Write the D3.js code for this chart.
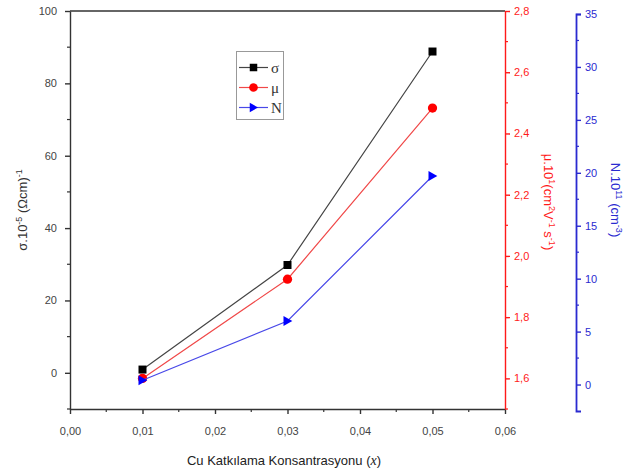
<!DOCTYPE html>
<html><head><meta charset="utf-8">
<script src="https://cdn.jsdelivr.net/npm/d3@7"></script>
<style>body{margin:0;background:#fff}svg{display:block}</style>
</head><body>
<svg id="c" width="630" height="474"></svg>
<script>
const xValues = [0.01, 0.03, 0.05];
const sigmaValues = [0.9, 29.8, 88.8];
const muValues = [1.60, 1.924, 2.483];
const nValues = [0.4, 6.0, 19.7];
const xTicks = [0, 0.01, 0.02, 0.03, 0.04, 0.05, 0.06];
const sigmaTicks = [0, 20, 40, 60, 80, 100];
const muTicks = [1.6, 1.8, 2.0, 2.2, 2.4, 2.6, 2.8];
const nTicks = [0, 5, 10, 15, 20, 25, 30, 35];

const svg = d3.select("#c");
const L = 70, R = 505, T = 11, B = 409;
const x = d3.scaleLinear([0, 0.06], [L, R]);
const yS = d3.scaleLinear([-10, 100], [B, T]);
const yM = d3.scaleLinear([1.5, 2.8], [B, T]);
const yN = d3.scaleLinear([-2.5, 35], [411, 14]);
const comma = d => d3.format(".2f")(d).replace(".", ",");
const comma1 = d => d3.format(".1f")(d).replace(".", ",");
const sans = "Liberation Sans, Arial, sans-serif";
const serif = "Liberation Serif, Times New Roman, serif";
const black = "#333", red = "#ff1a1a", blue = "#2a2ad0";

function styleAxis(g, color, fs) {
  g.selectAll("path,line").attr("stroke", color).attr("stroke-width", 1.4);
  g.selectAll("text").attr("fill", color).attr("font-family", sans).attr("font-size", fs);
}

// top frame
svg.append("line").attr("x1", L).attr("x2", R).attr("y1", T).attr("y2", T)
  .attr("stroke", black).attr("stroke-width", 1.4);

function minor(g, vals, scale, orient, color) {
  vals.forEach(v => {
    const p = scale(v);
    const l = g.append("line").attr("stroke", color).attr("stroke-width", 1.2);
    if (orient === "left") l.attr("x1", 0).attr("x2", -3).attr("y1", p).attr("y2", p);
    if (orient === "right") l.attr("x1", 0).attr("x2", 3).attr("y1", p).attr("y2", p);
    if (orient === "bottom") l.attr("y1", 0).attr("y2", 3).attr("x1", p).attr("x2", p);
  });
}

// x axis
const gx = svg.append("g").attr("transform", `translate(0,${B})`)
  .call(d3.axisBottom(x).tickValues(xTicks).tickFormat(comma).tickSize(5).tickSizeOuter(0).tickPadding(13));
styleAxis(gx, black, 11);
gx.selectAll("text").attr("fill", "#444");
minor(gx, [0.005, 0.015, 0.025, 0.035, 0.045, 0.055], x, "bottom", black);

// left axis
const gl = svg.append("g").attr("transform", `translate(${L},0)`)
  .call(d3.axisLeft(yS).tickValues(sigmaTicks).tickSize(5).tickSizeOuter(0).tickPadding(8));
styleAxis(gl, black, 11);
gl.selectAll("text").attr("fill", "#444");
minor(gl, [-10, 10, 30, 50, 70, 90], yS, "left", black);

// red right axis
const gr = svg.append("g").attr("transform", `translate(${R},0)`)
  .call(d3.axisRight(yM).tickValues(muTicks).tickFormat(comma1).tickSize(5).tickSizeOuter(0).tickPadding(4));
styleAxis(gr, red, 11);
minor(gr, [1.5, 1.7, 1.9, 2.1, 2.3, 2.5, 2.7], yM, "right", red);

// blue axis
const gb = svg.append("g").attr("transform", `translate(576,0)`)
  .call(d3.axisRight(yN).tickValues(nTicks).tickSize(5).tickSizeOuter(5).tickPadding(4));
styleAxis(gb, blue, 11);
gb.select("path").attr("stroke-width", 1.8);
minor(gb, [2.5, 7.5, 12.5, 17.5, 22.5, 27.5, 32.5], yN, "right", blue);

// series
const series = [
  {vals: sigmaValues, y: yS, line: "#444", fill: "#000", shape: "sq"},
  {vals: muValues, y: yM, line: "#f04848", fill: "#ff0000", shape: "ci"},
  {vals: nValues, y: yN, line: "#4848e8", fill: "#0000ff", shape: "tr"}
];
function marker(g, shape, cx, cy, fill, s) {
  if (shape === "sq") g.append("rect").attr("x", cx - s/2).attr("y", cy - s/2).attr("width", s).attr("height", s).attr("fill", fill);
  if (shape === "ci") g.append("circle").attr("cx", cx).attr("cy", cy).attr("r", s*0.58).attr("fill", fill);
  if (shape === "tr") g.append("path").attr("d", `M${cx-s*0.5},${cy-s*0.62}L${cx+s*0.6},${cy}L${cx-s*0.5},${cy+s*0.62}Z`).attr("fill", fill);
}
series.forEach(s => {
  const pts = xValues.map((xv, i) => [x(xv), s.y(s.vals[i])]);
  svg.append("path").attr("d", d3.line()(pts)).attr("fill", "none").attr("stroke", s.line).attr("stroke-width", 1.2);
  pts.forEach(p => marker(svg, s.shape, p[0], p[1], s.fill, 8));
});

// legend
const leg = svg.append("g");
leg.append("rect").attr("x", 236.5).attr("y", 51.5).attr("width", 47).attr("height", 68)
  .attr("fill", "#fff").attr("stroke", "#999").attr("stroke-width", 1);
const legLabels = ["σ", "μ", "N"];
series.forEach((s, i) => {
  const yy = 67.5 + i * 20;
  leg.append("line").attr("x1", 239).attr("x2", 268).attr("y1", yy).attr("y2", yy).attr("stroke", s.line).attr("stroke-width", 1.2);
  marker(leg, s.shape, 253.5, yy, s.fill, 7.5);
  leg.append("text").attr("x", 271).attr("y", yy + 5).attr("font-family", serif).attr("font-size", 15)
    .attr("fill", "#333").text(legLabels[i]);
});

// x title
const xt = svg.append("text").attr("x", 284).attr("y", 465).attr("text-anchor", "middle")
  .attr("font-family", sans).attr("font-size", 13).attr("fill", "#222");
xt.append("tspan").text("Cu Katkılama Konsantrasyonu (");
xt.append("tspan").attr("font-family", serif).attr("font-style", "italic").attr("font-size", 14).text("x");
xt.append("tspan").text(")");

// rotated titles: parts alternate normal / superscript
function title(xp, yp, rot, color, parts) {
  const t = svg.append("text").attr("transform", `translate(${xp},${yp}) rotate(${rot})`)
    .attr("text-anchor", "middle").attr("font-family", sans).attr("font-size", 13).attr("fill", color);
  let prevSup = false;
  parts.forEach(p => {
    const ts = t.append("tspan").text(p.t);
    if (p.sup) ts.attr("dy", -5).attr("font-size", 9);
    else if (prevSup) ts.attr("dy", 5);
    prevSup = !!p.sup;
  });
}
title(27, 210, -90, black, [{t: "σ.10"}, {t: "-5", sup: true}, {t: " (Ωcm)"}, {t: "-1", sup: true}]);
title(544, 202, 90, red, [{t: "μ.10"}, {t: "1", sup: true}, {t: "(cm"}, {t: "2", sup: true}, {t: "V"}, {t: "-1", sup: true}, {t: " s"}, {t: "-1", sup: true}, {t: ")"}]);
title(611, 200, 90, blue, [{t: "N.10"}, {t: "11", sup: true}, {t: " (cm"}, {t: "-3", sup: true}, {t: ")"}]);
</script>
</body></html>
